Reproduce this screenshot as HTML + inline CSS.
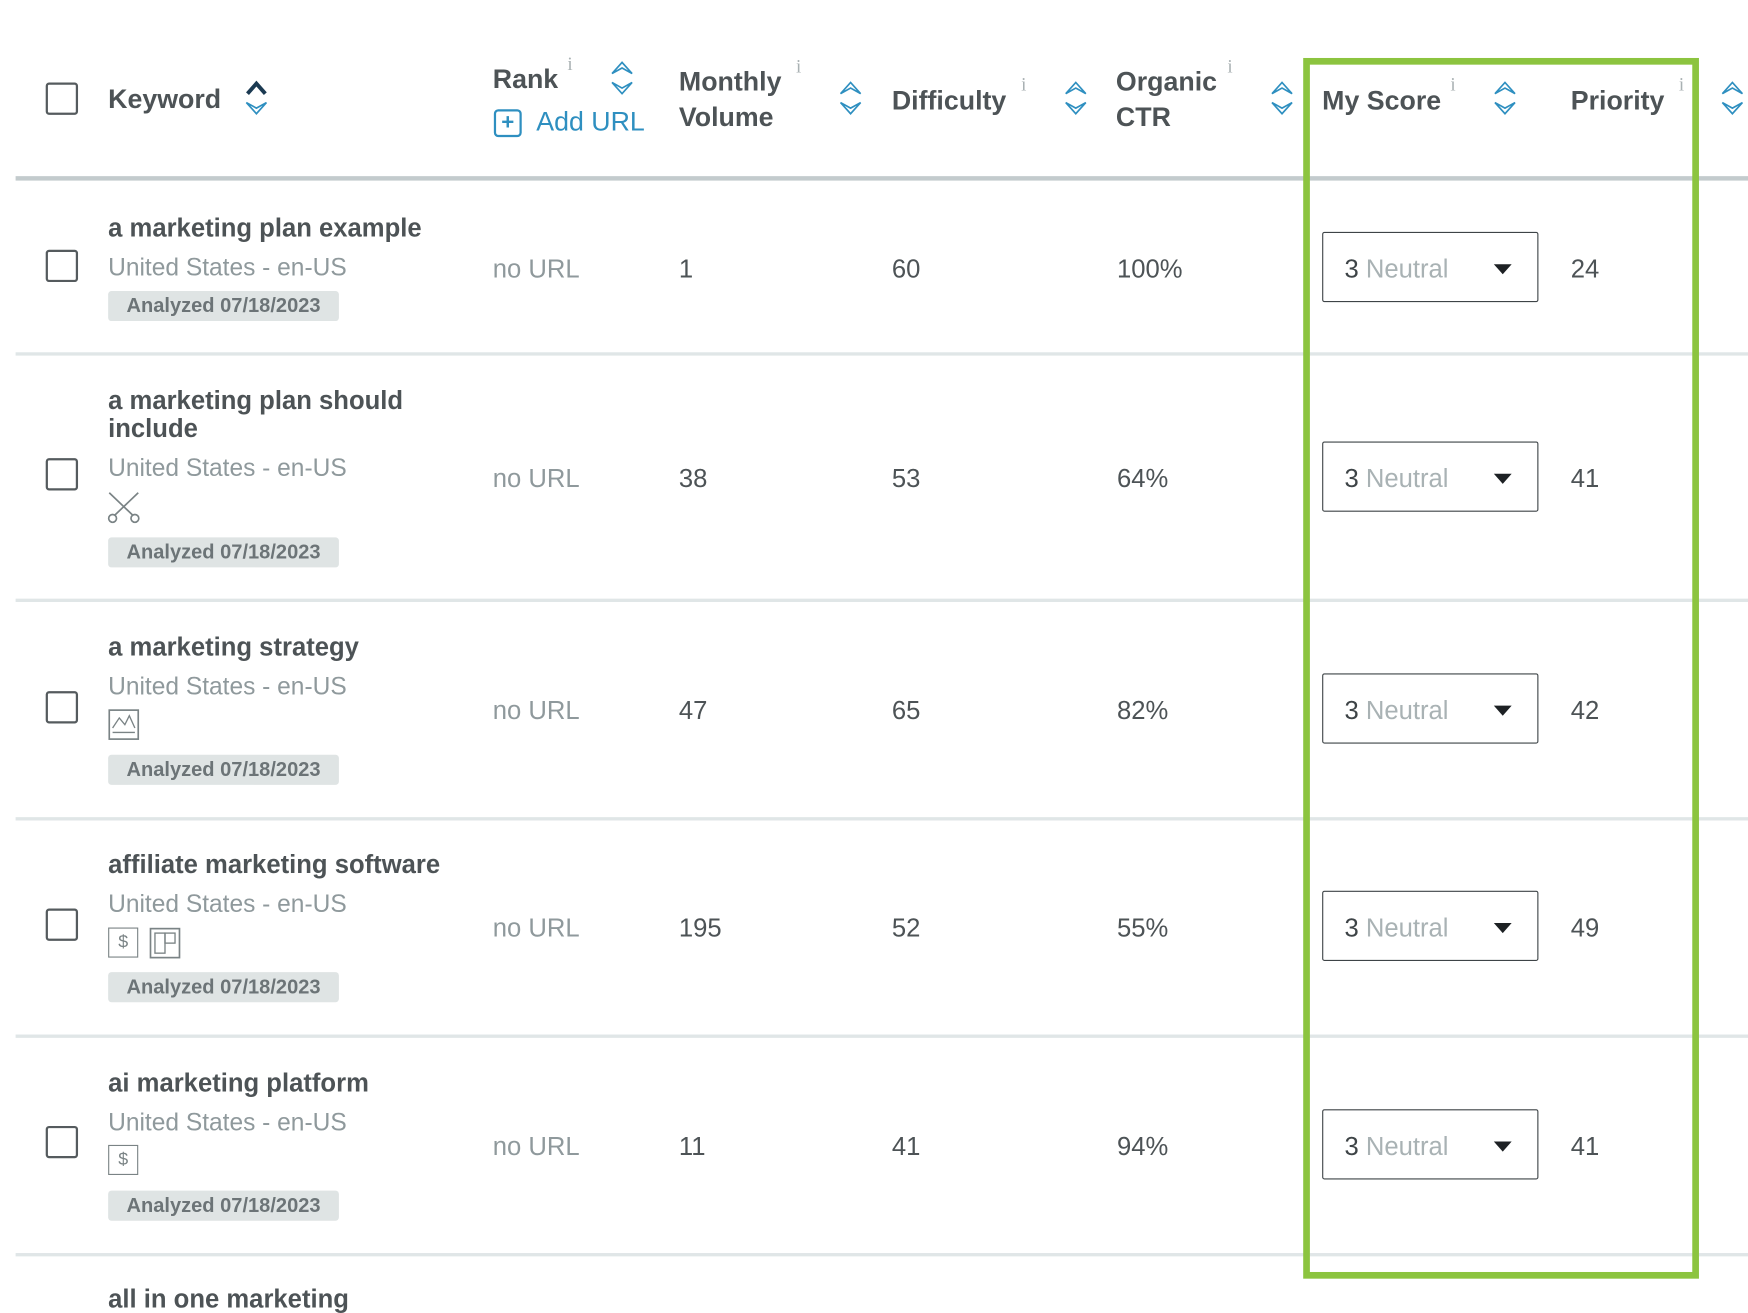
<!DOCTYPE html>
<html><head><meta charset="utf-8"><style>
html,body{margin:0;padding:0;background:#fff;overflow:hidden;}
body{width:1748px;height:1310px;}
#s{position:absolute;left:0;top:0;width:1568px;height:1175px;transform:scale(1.11480);transform-origin:0 0;font-family:"Liberation Sans",sans-serif;color:#4d5356;}
.a{position:absolute;white-space:nowrap;}
.cb{position:absolute;left:41px;width:25px;height:25px;border:2px solid #555b5e;border-radius:3px;}
.h{font-size:24px;font-weight:bold;color:#4d5356;line-height:32px;}
.i{font-size:17px;color:#a9b1b3;font-family:"Liberation Serif",serif;}
.t{font-size:23px;font-weight:bold;color:#4d5356;line-height:25px;}
.sub{font-size:22px;color:#8f999c;}
.bd{position:absolute;left:97px;width:207px;height:27px;background:#dfe4e4;border-radius:3px;font-size:18px;font-weight:bold;color:#6c7477;line-height:27px;text-align:center;}
.v{font-size:23px;color:#4d5356;}
.nu{font-size:23px;color:#8f999c;}
.sep{position:absolute;left:14px;width:1554px;height:3px;background:#e0e6e7;}
.dd{position:absolute;left:1186px;width:192px;height:61px;border:1.5px solid #3e4447;border-radius:2px;}
.dd span{position:absolute;left:19px;top:19px;font-size:23px;color:#3e4447;}
.dd span b{font-weight:normal;color:#a9b2b4;}
.dd i{position:absolute;left:153px;top:28px;border-left:8px solid transparent;border-right:8px solid transparent;border-top:9px solid #1d2124;}
</style></head><body><div id="s">
<svg width="0" height="0" style="position:absolute"><defs>
<g id="srt"><polygon points="2,12 11,2 20,12 11,7" fill="none" stroke="#2e8fc0" stroke-width="1.5" stroke-linejoin="miter"/><polygon points="2,20 11,30 20,20 11,25" fill="none" stroke="#2e8fc0" stroke-width="1.5"/></g>
</defs></svg>
<div class="cb" style="top:74px"></div>
<div class="a h" style="left:97px;top:74px">Keyword</div>
<svg class="a" style="left:219px;top:72px" width="22" height="34"><polyline points="3,12 11,3 19,12" fill="none" stroke="#1b3a52" stroke-width="3.5"/><polygon points="2,20 11,30 20,20 11,25" fill="none" stroke="#2e8fc0" stroke-width="1.5"/></svg>
<div class="a h" style="left:442px;top:56px">Rank</div><div class="a i" style="left:509px;top:48px">i</div>
<svg class="a" style="left:547px;top:54px" width="22" height="32"><use href="#srt"/></svg>
<div class="a" style="left:443px;top:98px;width:25px;height:25px;border:2px solid #2e8fc0;border-radius:4px;box-sizing:border-box;color:#2e8fc0;font-weight:bold;font-size:20px;line-height:21px;text-align:center">+</div>
<div class="a" style="left:481px;top:96px;font-size:24px;color:#2e8fc0">Add URL</div>
<div class="a h" style="left:609px;top:58px">Monthly<br>Volume</div><div class="a i" style="left:714px;top:50px">i</div>
<svg class="a" style="left:752px;top:72px" width="22" height="32"><use href="#srt"/></svg>
<div class="a h" style="left:800px;top:75px">Difficulty</div><div class="a i" style="left:916px;top:66px">i</div>
<svg class="a" style="left:954px;top:72px" width="22" height="32"><use href="#srt"/></svg>
<div class="a h" style="left:1001px;top:58px">Organic<br>CTR</div><div class="a i" style="left:1101px;top:50px">i</div>
<svg class="a" style="left:1139px;top:72px" width="22" height="32"><use href="#srt"/></svg>
<div class="a h" style="left:1186px;top:75px">My Score</div><div class="a i" style="left:1301px;top:66px">i</div>
<svg class="a" style="left:1339px;top:72px" width="22" height="32"><use href="#srt"/></svg>
<div class="a h" style="left:1409px;top:75px">Priority</div><div class="a i" style="left:1506px;top:66px">i</div>
<svg class="a" style="left:1543px;top:72px" width="22" height="32"><use href="#srt"/></svg>
<div class="a" style="left:14px;top:158px;width:1554px;height:4px;background:#c3cbcd"></div>

<div class="a t" style="left:97px;top:192px">a marketing plan example</div>
<div class="a sub" style="left:97px;top:227px">United States - en-US</div>
<div class="bd" style="top:261px">Analyzed 07/18/2023</div>
<div class="cb" style="top:224px"></div>
<div class="a nu" style="left:442px;top:228px">no URL</div>
<div class="a v" style="left:609px;top:228px">1</div><div class="a v" style="left:800px;top:228px">60</div><div class="a v" style="left:1002px;top:228px">100%</div>
<div class="dd" style="top:208px"><span>3 <b>Neutral</b></span><i></i></div>
<div class="a v" style="left:1409px;top:228px">24</div>
<div class="sep" style="top:316px"></div>

<div class="a t" style="left:97px;top:347px">a marketing plan should<br>include</div>
<div class="a sub" style="left:97px;top:407px">United States - en-US</div>
<svg class="a" style="left:96px;top:440px" width="32" height="30"><line x1="2" y1="2" x2="25" y2="24" stroke="#7a8385" stroke-width="1.5"/><line x1="28" y1="2" x2="5" y2="24" stroke="#7a8385" stroke-width="1.5"/><circle cx="5" cy="25" r="3.5" fill="#fff" stroke="#7a8385" stroke-width="1.5"/><circle cx="25" cy="25" r="3.5" fill="#fff" stroke="#7a8385" stroke-width="1.5"/></svg>
<div class="bd" style="top:482px">Analyzed 07/18/2023</div>
<div class="cb" style="top:411px"></div>
<div class="a nu" style="left:442px;top:416px">no URL</div>
<div class="a v" style="left:609px;top:416px">38</div><div class="a v" style="left:800px;top:416px">53</div><div class="a v" style="left:1002px;top:416px">64%</div>
<div class="dd" style="top:396px"><span>3 <b>Neutral</b></span><i></i></div>
<div class="a v" style="left:1409px;top:416px">41</div>
<div class="sep" style="top:537px"></div>

<div class="a t" style="left:97px;top:568px">a marketing strategy</div>
<div class="a sub" style="left:97px;top:603px">United States - en-US</div>
<svg class="a" style="left:97px;top:636px" width="30" height="29"><rect x="1" y="1" width="26" height="26" fill="none" stroke="#7a8385" stroke-width="1.5"/><polyline points="4,17 10,8 15,14 19,6 24,17" fill="none" stroke="#7a8385" stroke-width="1.2"/><line x1="4" y1="21" x2="24" y2="21" stroke="#7a8385" stroke-width="1.2"/></svg>
<div class="bd" style="top:677px">Analyzed 07/18/2023</div>
<div class="cb" style="top:620px"></div>
<div class="a nu" style="left:442px;top:624px">no URL</div>
<div class="a v" style="left:609px;top:624px">47</div><div class="a v" style="left:800px;top:624px">65</div><div class="a v" style="left:1002px;top:624px">82%</div>
<div class="dd" style="top:604px"><span>3 <b>Neutral</b></span><i></i></div>
<div class="a v" style="left:1409px;top:624px">42</div>
<div class="sep" style="top:733px"></div>

<div class="a t" style="left:97px;top:763px">affiliate marketing software</div>
<div class="a sub" style="left:97px;top:798px">United States - en-US</div>
<div class="a" style="left:97px;top:832px;width:25px;height:25px;border:1.5px solid #7a8385;font-size:16px;color:#7a8385;text-align:center;line-height:26px">$</div>
<svg class="a" style="left:134px;top:832px" width="30" height="29"><rect x="1" y="1" width="26" height="26" fill="none" stroke="#7a8385" stroke-width="1.5"/><rect x="5" y="5" width="9" height="18" fill="none" stroke="#7a8385" stroke-width="1.2"/><rect x="14" y="5" width="9" height="9" fill="none" stroke="#7a8385" stroke-width="1.2"/></svg>
<div class="bd" style="top:872px">Analyzed 07/18/2023</div>
<div class="cb" style="top:815px"></div>
<div class="a nu" style="left:442px;top:819px">no URL</div>
<div class="a v" style="left:609px;top:819px">195</div><div class="a v" style="left:800px;top:819px">52</div><div class="a v" style="left:1002px;top:819px">55%</div>
<div class="dd" style="top:799px"><span>3 <b>Neutral</b></span><i></i></div>
<div class="a v" style="left:1409px;top:819px">49</div>
<div class="sep" style="top:928px"></div>

<div class="a t" style="left:97px;top:959px">ai marketing platform</div>
<div class="a sub" style="left:97px;top:994px">United States - en-US</div>
<div class="a" style="left:97px;top:1027px;width:25px;height:25px;border:1.5px solid #7a8385;font-size:16px;color:#7a8385;text-align:center;line-height:26px">$</div>
<div class="bd" style="top:1068px">Analyzed 07/18/2023</div>
<div class="cb" style="top:1010px"></div>
<div class="a nu" style="left:442px;top:1015px">no URL</div>
<div class="a v" style="left:609px;top:1015px">11</div><div class="a v" style="left:800px;top:1015px">41</div><div class="a v" style="left:1002px;top:1015px">94%</div>
<div class="dd" style="top:995px"><span>3 <b>Neutral</b></span><i></i></div>
<div class="a v" style="left:1409px;top:1015px">41</div>
<div class="sep" style="top:1124px"></div>

<div class="a t" style="left:97px;top:1153px">all in one marketing</div>

<div class="a" style="left:1169px;top:52px;width:343px;height:1083px;border:6px solid #8cc43f"></div>
</div></body></html>
